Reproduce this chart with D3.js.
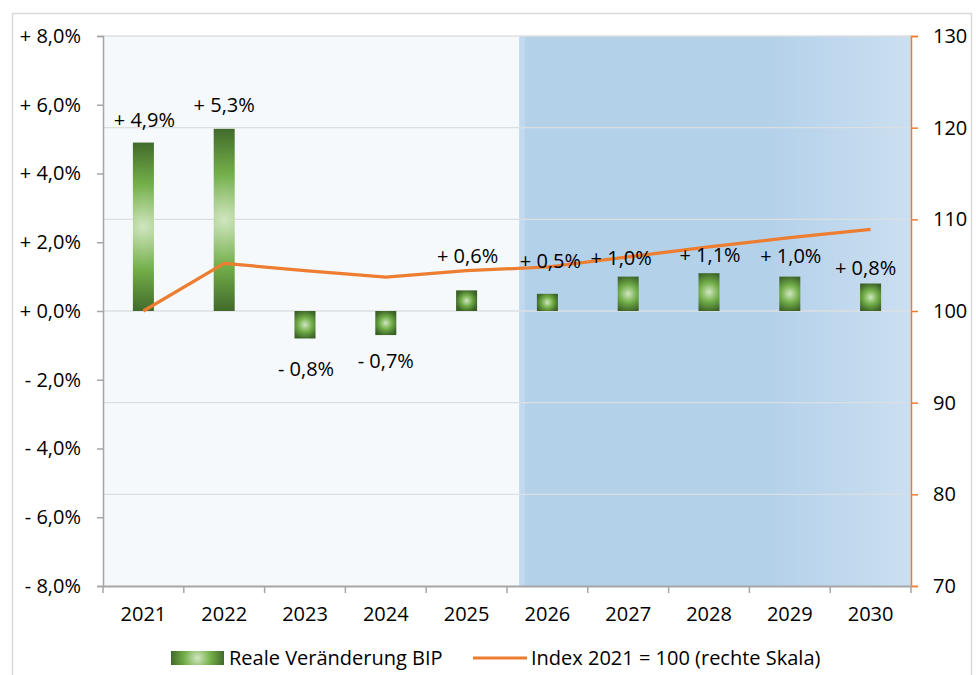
<!DOCTYPE html>
<html>
<head>
<meta charset="utf-8">
<script src="https://cdn.jsdelivr.net/npm/d3@7/dist/d3.min.js"></script>
<style>
  body { margin: 0; background: #fff; }
  svg text { font-family: "Open Sans", "Noto Sans", sans-serif; font-size: 20px; fill: #000; }
</style>
</head>
<body>
<svg id="chart" width="976" height="675"></svg>
<script>
// Data
const years = ['2021', '2022', '2023', '2024', '2025', '2026', '2027', '2028', '2029', '2030'];
const growth = [4.9, 5.3, -0.8, -0.7, 0.6, 0.5, 1.0, 1.1, 1.0, 0.8];
const indexValues = [100, 105.2, 104.4, 103.7, 104.4, 104.8, 105.9, 107.0, 108.0, 108.9];
const leftTicks = [-8, -6, -4, -2, 0, 2, 4, 6, 8];
const rightTicks = [70, 80, 90, 100, 110, 120, 130];
const forecastFrom = '2026';
const legendLabels = ['Reale Veränderung BIP', 'Index 2021 = 100 (rechte Skala)'];

// hand-placed label nudges (px), like the original
const labelDx = [1, 0, 1, 0, 1, 3, -7, 1, 1, -5];
const labelGap = [16, 17, 37, 33, 27, 26, 12, 11, 14, 9];

const margin = { top: 36, right: 65, bottom: 89, left: 103 };
const W = 976, H = 675;
const plotW = W - margin.left - margin.right;
const plotH = H - margin.top - margin.bottom;

const svg = d3.select('#chart');

// outer frame
svg.append('rect')
  .attr('x', 12.5).attr('y', 13.5)
  .attr('width', 959).attr('height', 700)
  .attr('fill', '#fff').attr('stroke', '#d9d9d9').attr('stroke-width', 1.5);

const g = svg.append('g').attr('transform', `translate(${margin.left},${margin.top})`);

const x = d3.scaleBand().domain(years).range([0, plotW]).padding(0);
const yL = d3.scaleLinear().domain([-8, 8]).range([plotH, 0]);
const yR = d3.scaleLinear().domain([70, 130]).range([plotH, 0]);

const fmtPct = v => (v < 0 ? '- ' : '+ ') + Math.abs(v).toFixed(1).replace('.', ',') + '%';

const defs = svg.append('defs');

// green "glow from the centre" fill, one circle gradient per rect
// (userSpaceOnUse = local coords of the element using it)
function glowGradient(id, cx, cy, w, h) {
  const grad = defs.append('radialGradient')
    .attr('id', id)
    .attr('gradientUnits', 'userSpaceOnUse')
    .attr('cx', cx).attr('cy', cy).attr('fx', cx).attr('fy', cy)
    .attr('r', Math.max(w, h) / 2 * 1.15);
  grad.append('stop').attr('offset', '0%').attr('stop-color', '#d0e6c0');
  grad.append('stop').attr('offset', '45%').attr('stop-color', '#72ae48');
  grad.append('stop').attr('offset', '88%').attr('stop-color', '#41692b');
  grad.append('stop').attr('offset', '100%').attr('stop-color', '#3a6024');
  return `url(#${id})`;
}

const blueGrad = defs.append('linearGradient')
  .attr('id', 'blueGrad').attr('x1', '0%').attr('x2', '100%').attr('y1', '0%').attr('y2', '0%');
blueGrad.append('stop').attr('offset', '0%').attr('stop-color', '#c1d8ee');
blueGrad.append('stop').attr('offset', '1.5%').attr('stop-color', '#c1d8ee');
blueGrad.append('stop').attr('offset', '1.6%').attr('stop-color', '#b4d1ea');
blueGrad.append('stop').attr('offset', '64%').attr('stop-color', '#b4d1ea');
blueGrad.append('stop').attr('offset', '100%').attr('stop-color', '#cbdff0');

// Backgrounds
const splitX = x(forecastFrom) + x.bandwidth() * 0.15;
g.append('rect')
  .attr('x', 0).attr('y', 0).attr('width', splitX).attr('height', plotH)
  .attr('fill', '#f5f9fc');
g.append('rect')
  .attr('x', splitX).attr('y', 0).attr('width', plotW - splitX).attr('height', plotH)
  .attr('fill', 'url(#blueGrad)');

// Gridlines (follow right scale)
g.append('g')
  .selectAll('line')
  .data(rightTicks.filter(d => d > 70))
  .enter().append('line')
  .attr('x1', 0).attr('x2', plotW)
  .attr('y1', d => yR(d)).attr('y2', d => yR(d))
  .attr('stroke', '#dcdfe2').attr('stroke-width', 1.3);

// Bars
const barW = x.bandwidth() * 0.26;
const bars = years.map((d, i) => {
  const bx = x(d) + (x.bandwidth() - barW) / 2;
  const by = yL(Math.max(0, growth[i]));
  const bh = Math.abs(yL(growth[i]) - yL(0));
  return { year: d, x: bx, y: by, h: bh, fill: glowGradient('bar' + i, bx + barW / 2, by + bh / 2, barW, bh) };
});
g.append('g')
  .selectAll('rect')
  .data(bars)
  .enter().append('rect')
  .attr('x', d => d.x)
  .attr('y', d => d.y)
  .attr('width', barW)
  .attr('height', d => d.h)
  .attr('fill', d => d.fill);

// Index line
const line = d3.line()
  .x((d, i) => x(years[i]) + x.bandwidth() / 2)
  .y(d => yR(d));
g.append('path')
  .datum(indexValues)
  .attr('d', line)
  .attr('fill', 'none')
  .attr('stroke', '#ed7d31')
  .attr('stroke-width', 3.2)
  .attr('stroke-linejoin', 'round');

// Left axis
const axL = g.append('g')
  .call(d3.axisLeft(yL).tickValues(leftTicks).tickFormat(fmtPct).tickSize(6).tickPadding(16));
axL.select('.domain').attr('stroke', '#a6a6a6').attr('stroke-width', 1.5);
axL.selectAll('.tick line').attr('stroke', '#a6a6a6').attr('stroke-width', 1.5);
axL.selectAll('text').attr('fill', '#000').style('font-size', '20px').attr('font-family', null);

// Right axis
const axR = g.append('g')
  .attr('transform', `translate(${plotW},0)`)
  .call(d3.axisRight(yR).tickValues(rightTicks).tickSize(7).tickPadding(15));
axR.select('.domain').attr('stroke', '#ed7d31').attr('stroke-width', 1.5);
axR.selectAll('.tick line').attr('stroke', '#ed7d31').attr('stroke-width', 1.5);
axR.selectAll('text').attr('fill', '#000').style('font-size', '20px').attr('font-family', null);

// Bottom axis
const axB = g.append('g')
  .attr('transform', `translate(0,${plotH})`)
  .call(d3.axisBottom(x).tickSize(0).tickPadding(21));
axB.select('.domain').attr('stroke', '#a6a6a6').attr('stroke-width', 2);
axB.selectAll('text').attr('fill', '#000').style('font-size', '20px').attr('font-family', null);
axB.append('g')
  .selectAll('line')
  .data(d3.range(years.length + 1))
  .enter().append('line')
  .attr('x1', i => i * x.step()).attr('x2', i => i * x.step())
  .attr('y1', 0).attr('y2', 7)
  .attr('stroke', '#a6a6a6').attr('stroke-width', 1.5);

// Data labels
g.append('g')
  .selectAll('text')
  .data(years)
  .enter().append('text')
  .attr('x', (d, i) => x(d) + x.bandwidth() / 2 + labelDx[i])
  .attr('y', (d, i) => growth[i] >= 0 ? yL(growth[i]) - labelGap[i] : yL(growth[i]) + labelGap[i])
  .attr('text-anchor', 'middle')
  .text((d, i) => fmtPct(growth[i]));

// Legend
const lg = svg.append('g').attr('transform', 'translate(171,658)');
lg.append('rect')
  .attr('x', 0).attr('y', -7).attr('width', 53).attr('height', 14)
  .attr('fill', glowGradient('legendGlow', 26.5, 0, 53, 14));
lg.append('text').attr('x', 58).attr('y', 7).text(legendLabels[0]);
lg.append('line')
  .attr('x1', 302).attr('x2', 356).attr('y1', 0).attr('y2', 0)
  .attr('stroke', '#ed7d31').attr('stroke-width', 3.2);
lg.append('text').attr('x', 360).attr('y', 7).text(legendLabels[1]);
</script>
</body>
</html>
